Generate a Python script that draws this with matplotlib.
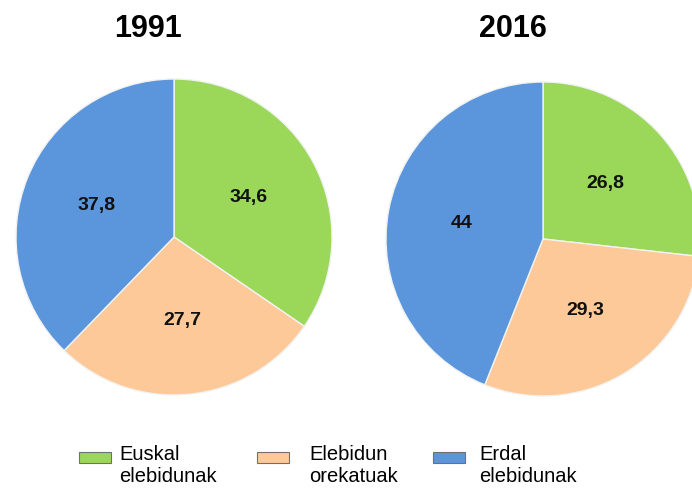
import matplotlib
matplotlib.use("Agg")
import matplotlib.pyplot as plt
from matplotlib.patches import Rectangle

# datuak
years = ["1991", "2016"]
categories = ["Euskal\nelebidunak", "Elebidun\norekatuak", "Erdal\nelebidunak"]
values_1991 = [34.6, 27.7, 37.8]
values_2016 = [26.8, 29.3, 44.0]
value_labels_1991 = ["34,6", "27,7", "37,8"]
value_labels_2016 = ["26,8", "29,3", "44"]
colors = ["#9bd85a", "#fdc998", "#5b96dc"]

plt.rcParams["font.family"] = ["Liberation Sans", "DejaVu Sans"]

W, H = 692, 490
fig = plt.figure(figsize=(W / 100, H / 100), dpi=100)


def pix_axes(cx, cy, r):
    return fig.add_axes([(cx - r) / W, (H - cy - r) / H, 2 * r / W, 2 * r / H])


# pastelak (pixel zentroa + erradioa)
pies = [
    (values_1991, value_labels_1991, 174, 237, 158),
    (values_2016, value_labels_2016, 543, 239, 157),
]
for vals, labs, cx, cy, r in pies:
    ax = pix_axes(cx, cy, r)
    ax.pie(vals, labels=labs, colors=colors, startangle=90,
           counterclock=False, labeldistance=0.53,
           wedgeprops=dict(edgecolor="#f2f2f2", linewidth=1.0),
           textprops=dict(fontsize=14, fontweight="bold",
                          ha="center", va="center", color="#111111"))
    ax.set_xlim(-1.0, 1.0)
    ax.set_ylim(-1.0, 1.0)

# izenburuak
fig.text(148.5 / W, 1 - 29 / H, years[0], ha="center", va="center",
         fontsize=22, fontweight="bold")
fig.text(513 / W, 1 - 29 / H, years[1], ha="center", va="center",
         fontsize=22, fontweight="bold")

# legenda (eskuz kokatua)
patch_x = [79, 257, 433]
text_x = [119, 309, 479]
for c, lab, px, tx in zip(colors, categories, patch_x, text_x):
    fig.add_artist(Rectangle((px / W, 1 - 463 / H), 32 / W, 11 / H,
                             transform=fig.transFigure, facecolor=c,
                             edgecolor="#707070", linewidth=0.8))
    fig.text(tx / W, 1 - 445 / H, lab, ha="left", va="top",
             fontsize=14.5, linespacing=1.2)

fig.savefig("out.png", dpi=100)
